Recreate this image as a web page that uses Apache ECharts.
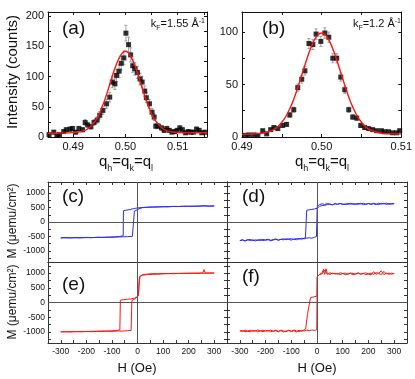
<!DOCTYPE html>
<html>
<head>
<meta charset="utf-8">
<script src="https://cdn.jsdelivr.net/npm/echarts@6.0.0/dist/echarts.min.js"></script>
<style>
  html, body { margin: 0; padding: 0; background: #fff; }
  #chart { width: 415px; height: 379px; }
</style>
</head>
<body>
<div id="chart"></div>
<script>
// (a) kF = 1.55
var aQ = [0.4854, 0.4863, 0.4869, 0.4874, 0.4882, 0.4887, 0.4894, 0.4899, 0.4905, 0.4911, 0.4918, 0.4923, 0.4928, 0.4934, 0.4940, 0.4946, 0.4951, 0.4957, 0.4964, 0.4970,
  0.4975, 0.4980, 0.4983, 0.4988, 0.4992, 0.4997, 0.5001, 0.5006, 0.5010, 0.5014, 0.5018, 0.5023, 0.5028, 0.5032, 0.5037, 0.5040, 0.5046, 0.5051, 0.5055, 0.5058,
  0.5063, 0.5069, 0.5074, 0.5079, 0.5084, 0.5089, 0.5094, 0.5099, 0.5104, 0.5109, 0.5115, 0.5120, 0.5125, 0.5130, 0.5136, 0.5141, 0.5146, 0.5152];
var aI = [4, 8, 3, 4, 9, 12, 13, 14, 8, 14, 12, 24, 20, 17, 24, 28, 36, 44, 55, 66,
  91, 88, 102, 109, 122, 131, 172, 153, 136, 118, 113, 107, 96, 91, 76, 65, 55, 41, 33, 18,
  18, 15, 11, 14, 11, 8, 9, 11, 15, 12, 7, 9, 8, 8, 13, 11, 7, 8];
var aErr = [2, 3, 2, 2, 3, 3.5, 3.6, 3.7, 3, 3.7, 3.5, 5, 4.5, 4, 5, 5.3, 6, 6.6, 7.4, 8,
  9.5, 9.4, 10, 10.4, 11, 11.4, 13, 12.4, 11.7, 10.9, 10.6, 10.3, 9.8, 9.5, 8.7, 8, 7.4, 6.4, 5.7, 4.2,
  4.2, 3.9, 3.3, 3.7, 3.3, 2.8, 3, 3.3, 3.9, 3.5, 2.6, 3, 2.8, 2.8, 3.6, 3.3, 2.6, 2.8];
var aFitQ = [0.4852, 0.487, 0.489, 0.490, 0.491, 0.492, 0.493, 0.494, 0.4945, 0.495, 0.4955, 0.496, 0.4965, 0.497, 0.4975, 0.498, 0.4985, 0.499, 0.4995,
  0.500, 0.5005, 0.501, 0.5015, 0.502, 0.5025, 0.503, 0.5035, 0.504, 0.5045, 0.505, 0.5055, 0.506, 0.507, 0.508, 0.509, 0.510, 0.512, 0.5156];
var aFitI = [6, 6.3, 6.8, 7.4, 8.2, 10, 15, 24, 30, 38, 49, 60, 73, 87, 101, 114, 125, 134, 140,
  142, 140, 134, 125, 114, 101, 87, 73, 60, 49, 38, 30, 24, 15, 10, 8.2, 7.4, 7.1, 7];

// (b) kF = 1.2
var bQ = [0.4904, 0.4909, 0.4915, 0.4920, 0.4926, 0.4931, 0.4936, 0.4940, 0.4945, 0.4951, 0.4956, 0.4960, 0.4965, 0.4970, 0.4975, 0.4979, 0.4984, 0.4989, 0.4993, 0.4999,
  0.5004, 0.5009, 0.5014, 0.5019, 0.5024, 0.5029, 0.5034, 0.5039, 0.5044, 0.5049, 0.5054, 0.5059, 0.5064, 0.5069, 0.5075, 0.5079, 0.5084, 0.5089, 0.5094, 0.5098];
var bI = [1.6, 2, 2, 1.6, 6, 3, 7, 9, 8, 11, 12, 21, 26, 47, 55, 63, 89, 88, 98, 91,
  99, 95, 75, 75, 57, 45, 26, 19, 18, 11, 9, 8, 7, 6, 6, 5, 5, 4, 4, 6];
var bErr = [0.6, 0.7, 0.7, 0.6, 1.2, 0.9, 1.3, 1.5, 1.4, 1.7, 1.7, 2.3, 2.5, 3.4, 3.7, 4, 4.7, 4.7, 5, 4.8,
  5, 4.9, 4.3, 4.3, 3.8, 3.4, 2.5, 2.2, 2.1, 1.7, 1.5, 1.4, 1.3, 1.2, 1.2, 1.1, 1.1, 1, 1, 1.2];
var bFitQ = [0.490, 0.492, 0.493, 0.494, 0.4945, 0.495, 0.4955, 0.496, 0.4965, 0.497, 0.4975, 0.498, 0.4985, 0.499, 0.4995,
  0.500, 0.5005, 0.501, 0.5015, 0.502, 0.5025, 0.503, 0.5035, 0.504, 0.5045, 0.505, 0.5055, 0.506, 0.507, 0.508, 0.510];
var bFitI = [2.5, 3.2, 4.3, 7, 9.9, 14, 19.5, 27, 36, 47, 59, 71, 82, 91, 97,
  99, 97, 91, 82, 71, 59, 47, 36, 27, 19.5, 14, 9.9, 7, 4.3, 3.2, 3];

// hysteresis loops, [H (Oe), M (uemu/cm2)]
var cUp = [[-300, -545], [-280, -535], [-260, -548], [-240, -540], [-220, -545], [-200, -532], [-180, -540], [-160, -530], [-140, -535], [-120, -525],
  [-100, -528], [-80, -518], [-60, -512], [-40, -505], [-20, -495], [-13, -480], [-12, 375], [-8, 395], [0, 425], [10, 470], [20, 495], [40, 510],
  [60, 518], [80, 522], [100, 528], [120, 525], [140, 535], [160, 532], [180, 540], [200, 545], [220, 538], [240, 550], [260, 555], [280, 548], [300, 552]];
var cDown = [[300, 555], [280, 550], [260, 558], [240, 545], [220, 550], [200, 540], [180, 545], [160, 535], [140, 538], [120, 530], [100, 525],
  [80, 520], [60, 515], [40, 508], [20, 500], [0, 485], [-12, 465], [-30, 430], [-45, 405], [-55, 390], [-56, -475], [-70, -500], [-90, -512],
  [-110, -520], [-130, -530], [-150, -528], [-170, -535], [-190, -540], [-210, -538], [-230, -545], [-250, -540], [-270, -550], [-290, -545], [-300, -550]];

var dUp = [[-300, -640], [-290, -610], [-280, -655], [-270, -625], [-260, -600], [-250, -645], [-240, -615], [-230, -630], [-220, -600], [-210, -640],
  [-200, -610], [-190, -595], [-180, -630], [-170, -605], [-160, -585], [-150, -620], [-140, -600], [-130, -580], [-120, -610], [-110, -585],
  [-100, -575], [-90, -600], [-80, -570], [-70, -590], [-60, -560], [-50, -580], [-40, -555], [-30, -545], [-20, -560], [-10, -530], [-2, -500],
  [0, -470], [1, 540], [5, 580], [10, 600], [20, 630], [30, 600], [40, 640], [50, 615], [60, 590], [70, 635], [80, 610], [90, 640], [100, 620],
  [110, 600], [120, 645], [130, 615], [140, 630], [150, 600], [160, 640], [170, 620], [180, 650], [190, 610], [200, 635], [210, 615], [220, 645],
  [230, 620], [240, 600], [250, 640], [260, 625], [270, 650], [280, 615], [290, 640], [300, 630]];
var dDown = [[300, 640], [290, 610], [280, 635], [270, 605], [260, 645], [250, 620], [240, 650], [230, 600], [220, 630], [210, 610], [200, 640],
  [190, 615], [180, 600], [170, 645], [160, 610], [150, 630], [140, 615], [130, 650], [120, 605], [110, 625], [100, 600], [90, 640], [80, 610],
  [70, 630], [60, 590], [50, 620], [40, 600], [30, 575], [20, 570], [10, 540], [5, 500], [0, 470], [-10, 450], [-20, 435], [-30, 420], [-40, 405],
  [-43, 390], [-45, -540], [-50, -575], [-60, -595], [-70, -570], [-80, -610], [-90, -590], [-100, -625], [-110, -600], [-120, -580], [-130, -615],
  [-140, -595], [-150, -630], [-160, -600], [-170, -620], [-180, -650], [-190, -610], [-200, -635], [-210, -600], [-220, -640], [-230, -620],
  [-240, -655], [-250, -615], [-260, -640], [-270, -605], [-280, -650], [-290, -625], [-300, -645]];

var eUp = [[-300, -1000], [-280, -995], [-260, -1005], [-240, -990], [-220, -1000], [-200, -985], [-180, -995], [-160, -980], [-140, -990], [-120, -975],
  [-100, -985], [-80, -970], [-60, -975], [-40, -960], [-25, -955], [-23, -945], [-22, 60], [-15, 110], [-8, 140], [-2, 170], [2, 220], [4, 300],
  [6, 700], [8, 880], [12, 930], [20, 950], [40, 970], [60, 985], [80, 975], [100, 990], [120, 980], [140, 995], [160, 985], [180, 1000], [200, 990],
  [220, 1005], [240, 990], [255, 1010], [260, 1120], [265, 1000], [280, 995], [300, 1005]];
var eDown = [[300, 1000], [280, 1010], [260, 995], [240, 1005], [220, 990], [200, 1000], [180, 985], [160, 995], [140, 980], [120, 990], [100, 975],
  [80, 965], [60, 960], [40, 950], [20, 930], [10, 890], [7, 700], [4, 300], [2, 210], [0, 185], [-10, 150], [-25, 125], [-40, 110], [-55, 95],
  [-67, 80], [-69, -930], [-80, -955], [-100, -965], [-120, -975], [-140, -970], [-160, -985], [-180, -980], [-200, -990], [-220, -985],
  [-240, -995], [-260, -990], [-280, -1000], [-300, -995]];

var fUp = [[-300, -960], [-290, -990], [-280, -940], [-270, -975], [-260, -1000], [-250, -950], [-240, -980], [-230, -935], [-220, -970], [-210, -995],
  [-200, -950], [-190, -975], [-180, -940], [-170, -985], [-160, -960], [-150, -1000], [-140, -945], [-130, -970], [-120, -990], [-110, -950],
  [-100, -975], [-90, -940], [-80, -965], [-70, -990], [-60, -950], [-50, -970], [-40, -945], [-30, -960], [-20, -935], [-10, -955], [-1, -930],
  [0, -900], [1, 880], [5, 930], [10, 960], [20, 1010], [25, 1130], [30, 960], [35, 1150], [40, 990], [50, 960], [60, 1000], [70, 970], [80, 990],
  [90, 950], [100, 985], [110, 1000], [120, 965], [130, 990], [140, 950], [150, 980], [160, 1000], [170, 960], [180, 985], [190, 1010], [200, 970],
  [210, 940], [220, 1050], [230, 960], [240, 1000], [250, 1080], [260, 950], [270, 1000], [280, 960], [290, 1000], [300, 980]];
var fDown = [[300, 990], [290, 960], [280, 1000], [270, 970], [260, 1060], [250, 950], [240, 990], [230, 1020], [220, 960], [210, 1000], [200, 975],
  [190, 950], [180, 995], [170, 970], [160, 1010], [150, 960], [140, 990], [130, 1005], [120, 970], [110, 950], [100, 990], [90, 1010], [80, 965],
  [70, 995], [60, 980], [50, 1010], [40, 960], [30, 1100], [20, 980], [10, 950], [3, 920], [1, 880], [0, 220], [-5, 200], [-15, 185], [-25, 170],
  [-31, 150], [-37, -400], [-44, -900], [-50, -955], [-60, -985], [-70, -945], [-80, -1000], [-90, -960], [-100, -990], [-110, -945], [-120, -975],
  [-130, -1000], [-140, -955], [-150, -980], [-160, -940], [-170, -970], [-180, -995], [-190, -950], [-200, -985], [-210, -940], [-220, -970],
  [-230, -1000], [-240, -955], [-250, -980], [-260, -945], [-270, -975], [-280, -995], [-290, -950], [-300, -975]];

// ticks and labels
var aXTicks = [0.49, 0.495, 0.50, 0.505, 0.51, 0.515];
var aXLabels = [0.49, 0.50, 0.51];
var aYTicks = [0, 25, 50, 75, 100, 125, 150, 175, 200];
var aYLabels = [0, 50, 100, 150, 200];
var bXTicks = [0.49, 0.495, 0.50, 0.505, 0.51];
var bXLabels = [0.49, 0.50, 0.51];
var bYTicks = [0, 25, 50, 75, 100];
var bYLabels = [0, 50, 100];
var hTicks = [-300, -250, -200, -150, -100, -50, 0, 50, 100, 150, 200, 250, 300];
var hLabels = [-300, -200, -100, 0, 100, 200, 300];
var mTicks = [-1250, -1000, -750, -500, -250, 0, 250, 500, 750, 1000, 1250];
var mLabels = [-1000, -500, 0, 500, 1000];

var FONT = '"Liberation Sans", Arial, sans-serif';

function zip(xs, ys) {
    return xs.map(function (x, i) { return [x, ys[i]]; });
}

function axis(g, pos, min, max, ticks, labels, opt) {
    opt = opt || {};
    return {
        gridIndex: g, type: 'value', position: pos, min: min, max: max,
        axisLine: { show: true, onZero: false, lineStyle: { color: opt.color || '#111', width: 1 } },
        axisTick: { show: !!ticks, inside: true, length: 3, customValues: ticks || [], lineStyle: { color: opt.color || '#111' } },
        axisLabel: {
            show: !!labels, customValues: labels || [], margin: opt.margin || 4,
            fontSize: opt.fontSize || 11, fontFamily: FONT, color: '#111',
            formatter: opt.fmt || function (v) { return String(v); }
        },
        splitLine: { show: false }
    };
}

function errBars(g, q, I, err) {
    return {
        type: 'custom', xAxisIndex: 2 * g, yAxisIndex: 2 * g, z: 2,
        data: q.map(function (x, i) { return [x, I[i], err[i]]; }),
        renderItem: function (params, api) {
            var x = api.value(0), y = api.value(1), e = api.value(2);
            var lo = api.coord([x, y - e]), hi = api.coord([x, y + e]);
            var st = { stroke: '#8a8a8a', lineWidth: 0.8 };
            return {
                type: 'group', children: [
                    { type: 'line', shape: { x1: lo[0], y1: lo[1], x2: hi[0], y2: hi[1] }, style: st },
                    { type: 'line', shape: { x1: lo[0] - 1.5, y1: lo[1], x2: lo[0] + 1.5, y2: lo[1] }, style: st },
                    { type: 'line', shape: { x1: hi[0] - 1.5, y1: hi[1], x2: hi[0] + 1.5, y2: hi[1] }, style: st }
                ]
            };
        }
    };
}

function loop(g, data, color, zero) {
    var s = {
        type: 'line', xAxisIndex: 2 * g, yAxisIndex: 2 * g, data: data,
        showSymbol: false, symbol: 'none', z: 3,
        lineStyle: { color: color, width: 1 }
    };
    if (zero) {
        s.markLine = {
            silent: true, symbol: ['none', 'none'], label: { show: false },
            lineStyle: { color: '#555', type: 'solid', width: 1 },
            data: [{ yAxis: 0 }, { xAxis: 0 }]
        };
    }
    return s;
}

var fmt2 = function (v) { return v.toFixed(2); };
var lowCol = '#333';

var grids = [
    { left: 48, top: 12, width: 159, height: 125 },
    { left: 242, top: 12, width: 160, height: 125 },
    { left: 48, top: 182, width: 179, height: 80 },
    { left: 227, top: 182, width: 180, height: 80 },
    { left: 48, top: 262, width: 179, height: 81 },
    { left: 227, top: 262, width: 180, height: 81 }
];

var xAxes = [
    axis(0, 'bottom', 0.4852, 0.5156, aXTicks, aXLabels, { fmt: fmt2 }),
    axis(0, 'top', 0.4852, 0.5156, aXTicks, null),
    axis(1, 'bottom', 0.49, 0.51, bXTicks, bXLabels, { fmt: fmt2 }),
    axis(1, 'top', 0.49, 0.51, bXTicks, null)
];
var yAxes = [
    axis(0, 'left', 0, 207, aYTicks, aYLabels),
    axis(0, 'right', 0, 207, aYTicks, null),
    axis(1, 'left', 0, 119, bYTicks, bYLabels),
    axis(1, 'right', 0, 119, bYTicks, null)
];
[2, 3, 4, 5].forEach(function (g) {
    var bottomRow = g >= 4;
    xAxes.push(axis(g, 'bottom', -350, 350, bottomRow ? hTicks : null, bottomRow ? hLabels : null, { color: lowCol, fontSize: 8.5, margin: 4 }));
    xAxes.push(axis(g, 'top', -350, 350, bottomRow ? null : hTicks, null, { color: lowCol }));
    var leftCol = (g === 2 || g === 4);
    yAxes.push(axis(g, 'left', -1380, 1380, mTicks, leftCol ? mLabels : null, { color: lowCol, fontSize: 8.5, margin: 3 }));
    yAxes.push(axis(g, 'right', -1380, 1380, mTicks, null, { color: lowCol }));
});

var blue = '#2a2aff', red = '#ff1414';

var series = [
    errBars(0, aQ, aI, aErr),
    { type: 'scatter', xAxisIndex: 0, yAxisIndex: 0, data: zip(aQ, aI), symbol: 'rect', symbolSize: 5, itemStyle: { color: '#000' }, z: 3 },
    { type: 'line', xAxisIndex: 0, yAxisIndex: 0, data: zip(aFitQ, aFitI), smooth: 0.4, showSymbol: false, symbol: 'none', lineStyle: { color: red, width: 1.4 }, z: 4 },
    errBars(1, bQ, bI, bErr),
    { type: 'scatter', xAxisIndex: 2, yAxisIndex: 2, data: zip(bQ, bI), symbol: 'rect', symbolSize: 5, itemStyle: { color: '#000' }, z: 3 },
    { type: 'line', xAxisIndex: 2, yAxisIndex: 2, data: zip(bFitQ, bFitI), smooth: 0.4, showSymbol: false, symbol: 'none', lineStyle: { color: red, width: 1.4 }, z: 4 },
    loop(2, cUp, blue, true), loop(2, cDown, blue),
    loop(3, dUp, blue, true), loop(3, dDown, blue),
    loop(4, eUp, red, true), loop(4, eDown, red),
    loop(5, fUp, red, true), loop(5, fDown, red)
];

function txt(x, y, text, size, opt) {
    opt = opt || {};
    return {
        type: 'text', x: x, y: y, rotation: opt.rot || 0, z: 10,
        style: {
            text: text, font: size + 'px ' + FONT, fill: '#111',
            align: opt.align || 'left', verticalAlign: 'middle', rich: opt.rich
        }
    };
}

var kRich = {
    n: { fontSize: 11, fontFamily: FONT, fill: '#111', padding: [0, 0, 3, 0], verticalAlign: 'bottom' },
    s: { fontSize: 7, fontFamily: FONT, fill: '#111', verticalAlign: 'bottom' },
    u: { fontSize: 7, fontFamily: FONT, fill: '#111', verticalAlign: 'top' }
};
var qRich = {
    n: { fontSize: 15, fontFamily: FONT, fill: '#111', padding: [0, 0, 4, 0], verticalAlign: 'bottom' },
    s: { fontSize: 9, fontFamily: FONT, fill: '#111', verticalAlign: 'bottom' }
};
var qText = '{n|q}{s|h}{n|=q}{s|k}{n|=q}{s|l}';

var graphics = [
    txt(13, 72, 'Intensity (counts)', 15, { align: 'center', rot: Math.PI / 2 }),
    txt(62, 29, '(a)', 19),
    txt(262, 29, '(b)', 19),
    txt(205, 25, '{n|k}{s|F}{n|=1.55 Å}{u|-1}', 11, { align: 'right', rich: kRich }),
    txt(401, 25, '{n|k}{s|F}{n|=1.2 Å}{u|-1}', 11, { align: 'right', rich: kRich }),
    txt(126, 164, qText, 15, { align: 'center', rich: qRich }),
    txt(322, 164, qText, 15, { align: 'center', rich: qRich }),
    txt(13, 221, 'M (μemu/cm²)', 12, { align: 'center', rot: Math.PI / 2 }),
    txt(13, 302, 'M (μemu/cm²)', 12, { align: 'center', rot: Math.PI / 2 }),
    txt(62, 197, '(c)', 19),
    txt(242, 197, '(d)', 19),
    txt(62, 285, '(e)', 19),
    txt(242, 277, '(f)', 19),
    txt(137, 368, 'H (Oe)', 13, { align: 'center' }),
    txt(317, 368, 'H (Oe)', 13, { align: 'center' })
];

var chart = echarts.init(document.getElementById('chart'), null, { renderer: 'canvas' });
chart.setOption({
    animation: false,
    backgroundColor: '#fff',
    textStyle: { fontFamily: FONT },
    grid: grids,
    xAxis: xAxes,
    yAxis: yAxes,
    series: series,
    graphic: graphics
});
</script>
</body>
</html>
